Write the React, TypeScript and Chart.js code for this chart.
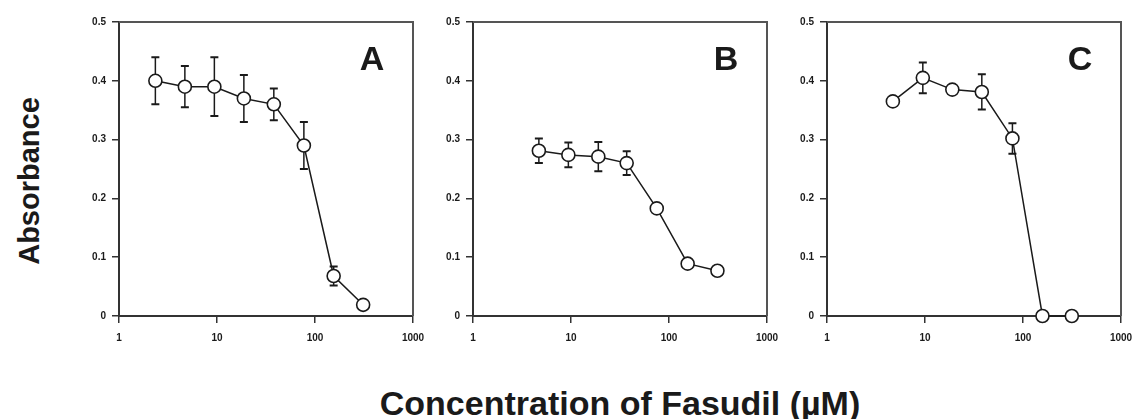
import React, { useEffect, useRef } from 'react';
import { Chart, registerables } from 'chart.js';

Chart.register(...registerables);

// ---- data ----
const X_TICKS = [1, 10, 100, 1000];
const Y_TICKS = [0, 0.1, 0.2, 0.3, 0.4, 0.5];
const PANEL_LABELS = ['A', 'B', 'C'];

const A_CONC = [2.35, 4.7, 9.4, 18.8, 38, 77, 155, 310];
const A_ABS = [0.4, 0.39, 0.39, 0.37, 0.36, 0.29, 0.068, 0.019];
const A_ERR = [0.04, 0.035, 0.05, 0.04, 0.027, 0.04, 0.016, 0];

const B_CONC = [4.7, 9.4, 19, 37, 75, 155, 312];
const B_ABS = [0.281, 0.274, 0.271, 0.26, 0.183, 0.089, 0.077];
const B_ERR = [0.021, 0.021, 0.025, 0.02, 0, 0, 0];

const C_CONC = [4.7, 9.5, 19, 38, 78, 158, 315];
const C_ABS = [0.365, 0.405, 0.385, 0.381, 0.302, 0, 0];
const C_ERR = [0, 0.026, 0, 0.03, 0.026, 0, 0];

const Y_TITLE = 'Absorbance';
const X_TITLE = 'Concentration of Fasudil (\u00b5M)';

const SERIES = [
  { conc: A_CONC, abs: A_ABS, err: A_ERR },
  { conc: B_CONC, abs: B_ABS, err: B_ERR },
  { conc: C_CONC, abs: C_ABS, err: C_ERR },
];

// ---- layout ----
const PLOT_W = 294;
const PLOT_H = 294;
const PLOT_TOP = 22;
const PLOT_LEFTS = [119, 473, 827];
const Y_AXIS_W = 45;
const X_AXIS_H = 35;
const PAD_T = 14;
const PAD_R = 26;
const FONT = '"Liberation Sans", Arial, Helvetica, sans-serif';
const INK = '#1a1a1a';

const errorBarPlugin = {
  id: 'errorBars',
  beforeDatasetsDraw(chart: any) {
    const ctx = chart.ctx;
    const xs = chart.scales.x;
    const ys = chart.scales.y;
    chart.data.datasets.forEach((ds: any) => {
      const errs: number[] = ds.errors || [];
      ds.data.forEach((p: any, i: number) => {
        const e = errs[i];
        if (!e) return;
        const px = xs.getPixelForValue(p.x);
        const top = ys.getPixelForValue(p.y + e);
        const bot = ys.getPixelForValue(p.y - e);
        ctx.save();
        ctx.strokeStyle = INK;
        ctx.lineWidth = 1.5;
        ctx.beginPath();
        ctx.moveTo(px, top);
        ctx.lineTo(px, bot);
        ctx.stroke();
        ctx.lineWidth = 2;
        ctx.beginPath();
        ctx.moveTo(px - 4, top);
        ctx.lineTo(px + 4, top);
        ctx.moveTo(px - 4, bot);
        ctx.lineTo(px + 4, bot);
        ctx.stroke();
        ctx.restore();
      });
    });
  },
};

const framePlugin = {
  id: 'frame',
  beforeDatasetsDraw(chart: any) {
    const { left, right, top, bottom } = chart.chartArea;
    const ctx = chart.ctx;
    ctx.save();
    ctx.strokeStyle = '#555';
    ctx.lineWidth = 2;
    ctx.beginPath();
    ctx.moveTo(left, top);
    ctx.lineTo(right, top);
    ctx.lineTo(right, bottom);
    ctx.stroke();
    ctx.restore();
  },
  afterDraw(chart: any) {
    const label = chart.options.plugins.frame?.label;
    if (!label) return;
    const { right, top } = chart.chartArea;
    const ctx = chart.ctx;
    ctx.save();
    ctx.fillStyle = INK;
    ctx.font = `bold 34px ${FONT}`;
    ctx.textAlign = 'center';
    ctx.textBaseline = 'middle';
    ctx.fillText(label, right - 41, top + 39);
    ctx.restore();
  },
};

function Panel({ index }: { index: number }) {
  const ref = useRef<HTMLCanvasElement | null>(null);
  useEffect(() => {
    const s = SERIES[index];
    const chart = new Chart(ref.current as HTMLCanvasElement, {
      type: 'scatter',
      data: {
        datasets: [
          {
            data: s.conc.map((c, i) => ({ x: c, y: s.abs[i] })),
            errors: s.err,
            showLine: true,
            borderColor: INK,
            borderWidth: 1.5,
            pointRadius: 6.5,
            pointBorderWidth: 1.6,
            pointBackgroundColor: '#fff',
            pointBorderColor: INK,
            clip: false,
          } as any,
        ],
      },
      options: {
        animation: false,
        responsive: false,
        devicePixelRatio: 1,
        layout: { padding: { top: PAD_T, right: PAD_R, left: 0, bottom: 0 } },
        plugins: {
          legend: { display: false },
          tooltip: { enabled: false },
          frame: { label: PANEL_LABELS[index] },
        } as any,
        scales: {
          x: {
            type: 'logarithmic',
            min: 1,
            max: 1000,
            afterBuildTicks: (sc: any) => {
              sc.ticks = X_TICKS.map((v) => ({ value: v }));
            },
            afterFit: (sc: any) => {
              sc.height = X_AXIS_H;
            },
            ticks: {
              autoSkip: false,
              maxRotation: 0,
              padding: 9,
              color: INK,
              font: { family: FONT, size: 10, weight: 'bold' },
              callback: (v: any) => String(v),
            },
            grid: {
              drawOnChartArea: false,
              drawTicks: true,
              tickLength: 7,
              tickColor: '#333',
              lineWidth: 1.5,
            },
            border: { display: true, color: '#333', width: 2 },
          },
          y: {
            min: 0,
            max: 0.5,
            afterBuildTicks: (sc: any) => {
              sc.ticks = Y_TICKS.map((v) => ({ value: v }));
            },
            afterFit: (sc: any) => {
              sc.width = Y_AXIS_W;
            },
            ticks: {
              padding: 6,
              color: INK,
              font: { family: FONT, size: 10, weight: 'bold' },
              callback: (v: any) => (v === 0 ? '0' : Number(v).toFixed(1)),
            },
            grid: {
              drawOnChartArea: false,
              drawTicks: true,
              tickLength: 7,
              tickColor: '#333',
              lineWidth: 1.5,
            },
            border: { display: true, color: '#333', width: 2 },
          },
        },
      } as any,
      plugins: [errorBarPlugin, framePlugin],
    });
    return () => chart.destroy();
  }, [index]);

  const w = Y_AXIS_W + PLOT_W + PAD_R;
  const h = PAD_T + PLOT_H + X_AXIS_H;
  return (
    <canvas
      ref={ref}
      width={w}
      height={h}
      style={{
        position: 'absolute',
        left: PLOT_LEFTS[index] - Y_AXIS_W,
        top: PLOT_TOP - PAD_T,
        width: w,
        height: h,
      }}
    />
  );
}

export default function App() {
  return (
    <div
      style={{
        position: 'absolute',
        left: 0,
        top: 0,
        width: 1136,
        height: 419,
        background: '#fff',
        overflow: 'hidden',
        fontFamily: FONT,
        color: INK,
      }}
    >
      {PANEL_LABELS.map((_, i) => (
        <Panel key={i} index={i} />
      ))}
      <div
        style={{
          position: 'absolute',
          left: 29,
          top: 181,
          transform: 'translate(-50%, -50%) rotate(-90deg)',
          fontSize: 29,
          fontWeight: 'bold',
          lineHeight: 1,
          whiteSpace: 'nowrap',
        }}
      >
        {Y_TITLE}
      </div>
      <div
        style={{
          position: 'absolute',
          left: 620,
          top: 403,
          transform: 'translate(-50%, -50%)',
          fontSize: 34,
          fontWeight: 'bold',
          lineHeight: 1,
          whiteSpace: 'nowrap',
        }}
      >
        {X_TITLE}
      </div>
    </div>
  );
}
